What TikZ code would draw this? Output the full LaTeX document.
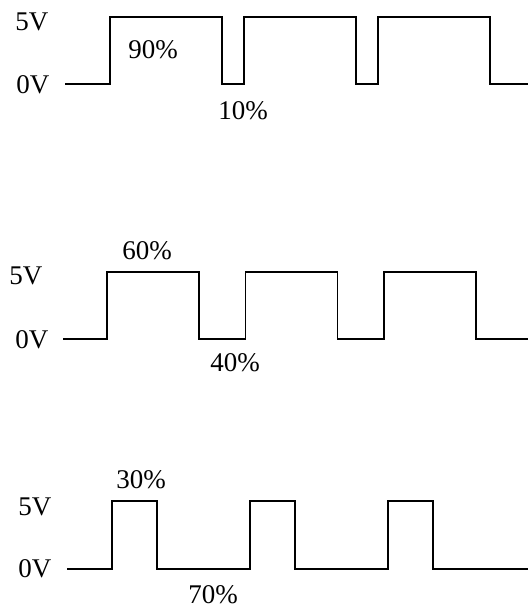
\documentclass[tikz,border=0pt]{standalone}
\usepackage{fontspec}
\setmainfont{Liberation Serif}

\begin{document}
\begin{tikzpicture}[x=1pt, y=-1pt, line width=1.5pt,
    level/.style={anchor=east, inner sep=0pt},
    duty/.style={inner sep=0pt}]
            \useasboundingbox (0,0) rectangle (528,609);
            \fontsize{27}{31}\selectfont
            % 90% duty cycle
            \draw (65,84) foreach \s in {110,244,378} {
                -- (\s,84) -- (\s,17) -- (\s+112,17) -- (\s+112,84)} -- (528,84);
            \node[level] (hiA) at (49,22) {5V};
            \node[level] (loA) at (50,85) {0V};
            \node[duty] (onA) at (153,50) {90\%};
            \node[duty] (offA) at (243,111) {10\%};
            % 60% duty cycle
            \draw (63,339) foreach \s in {107,245.5,384} {
                -- (\s,339) -- (\s,272) -- (\s+92,272) -- (\s+92,339)} -- (528,339);
            \node[level] (hiB) at (43,276) {5V};
            \node[level] (loB) at (49,340) {0V};
            \node[duty] (onB) at (147,251) {60\%};
            \node[duty] (offB) at (235,363) {40\%};
            % 30% duty cycle
            \draw (67,569) foreach \s in {112,250,388} {
                -- (\s,569) -- (\s,501) -- (\s+45,501) -- (\s+45,569)} -- (528,569);
            \node[level] (hiC) at (52,507) {5V};
            \node[level] (loC) at (52,569) {0V};
            \node[duty] (onC) at (141,480) {30\%};
            \node[duty] (offC) at (213,595) {70\%};
\end{tikzpicture}
\end{document}
